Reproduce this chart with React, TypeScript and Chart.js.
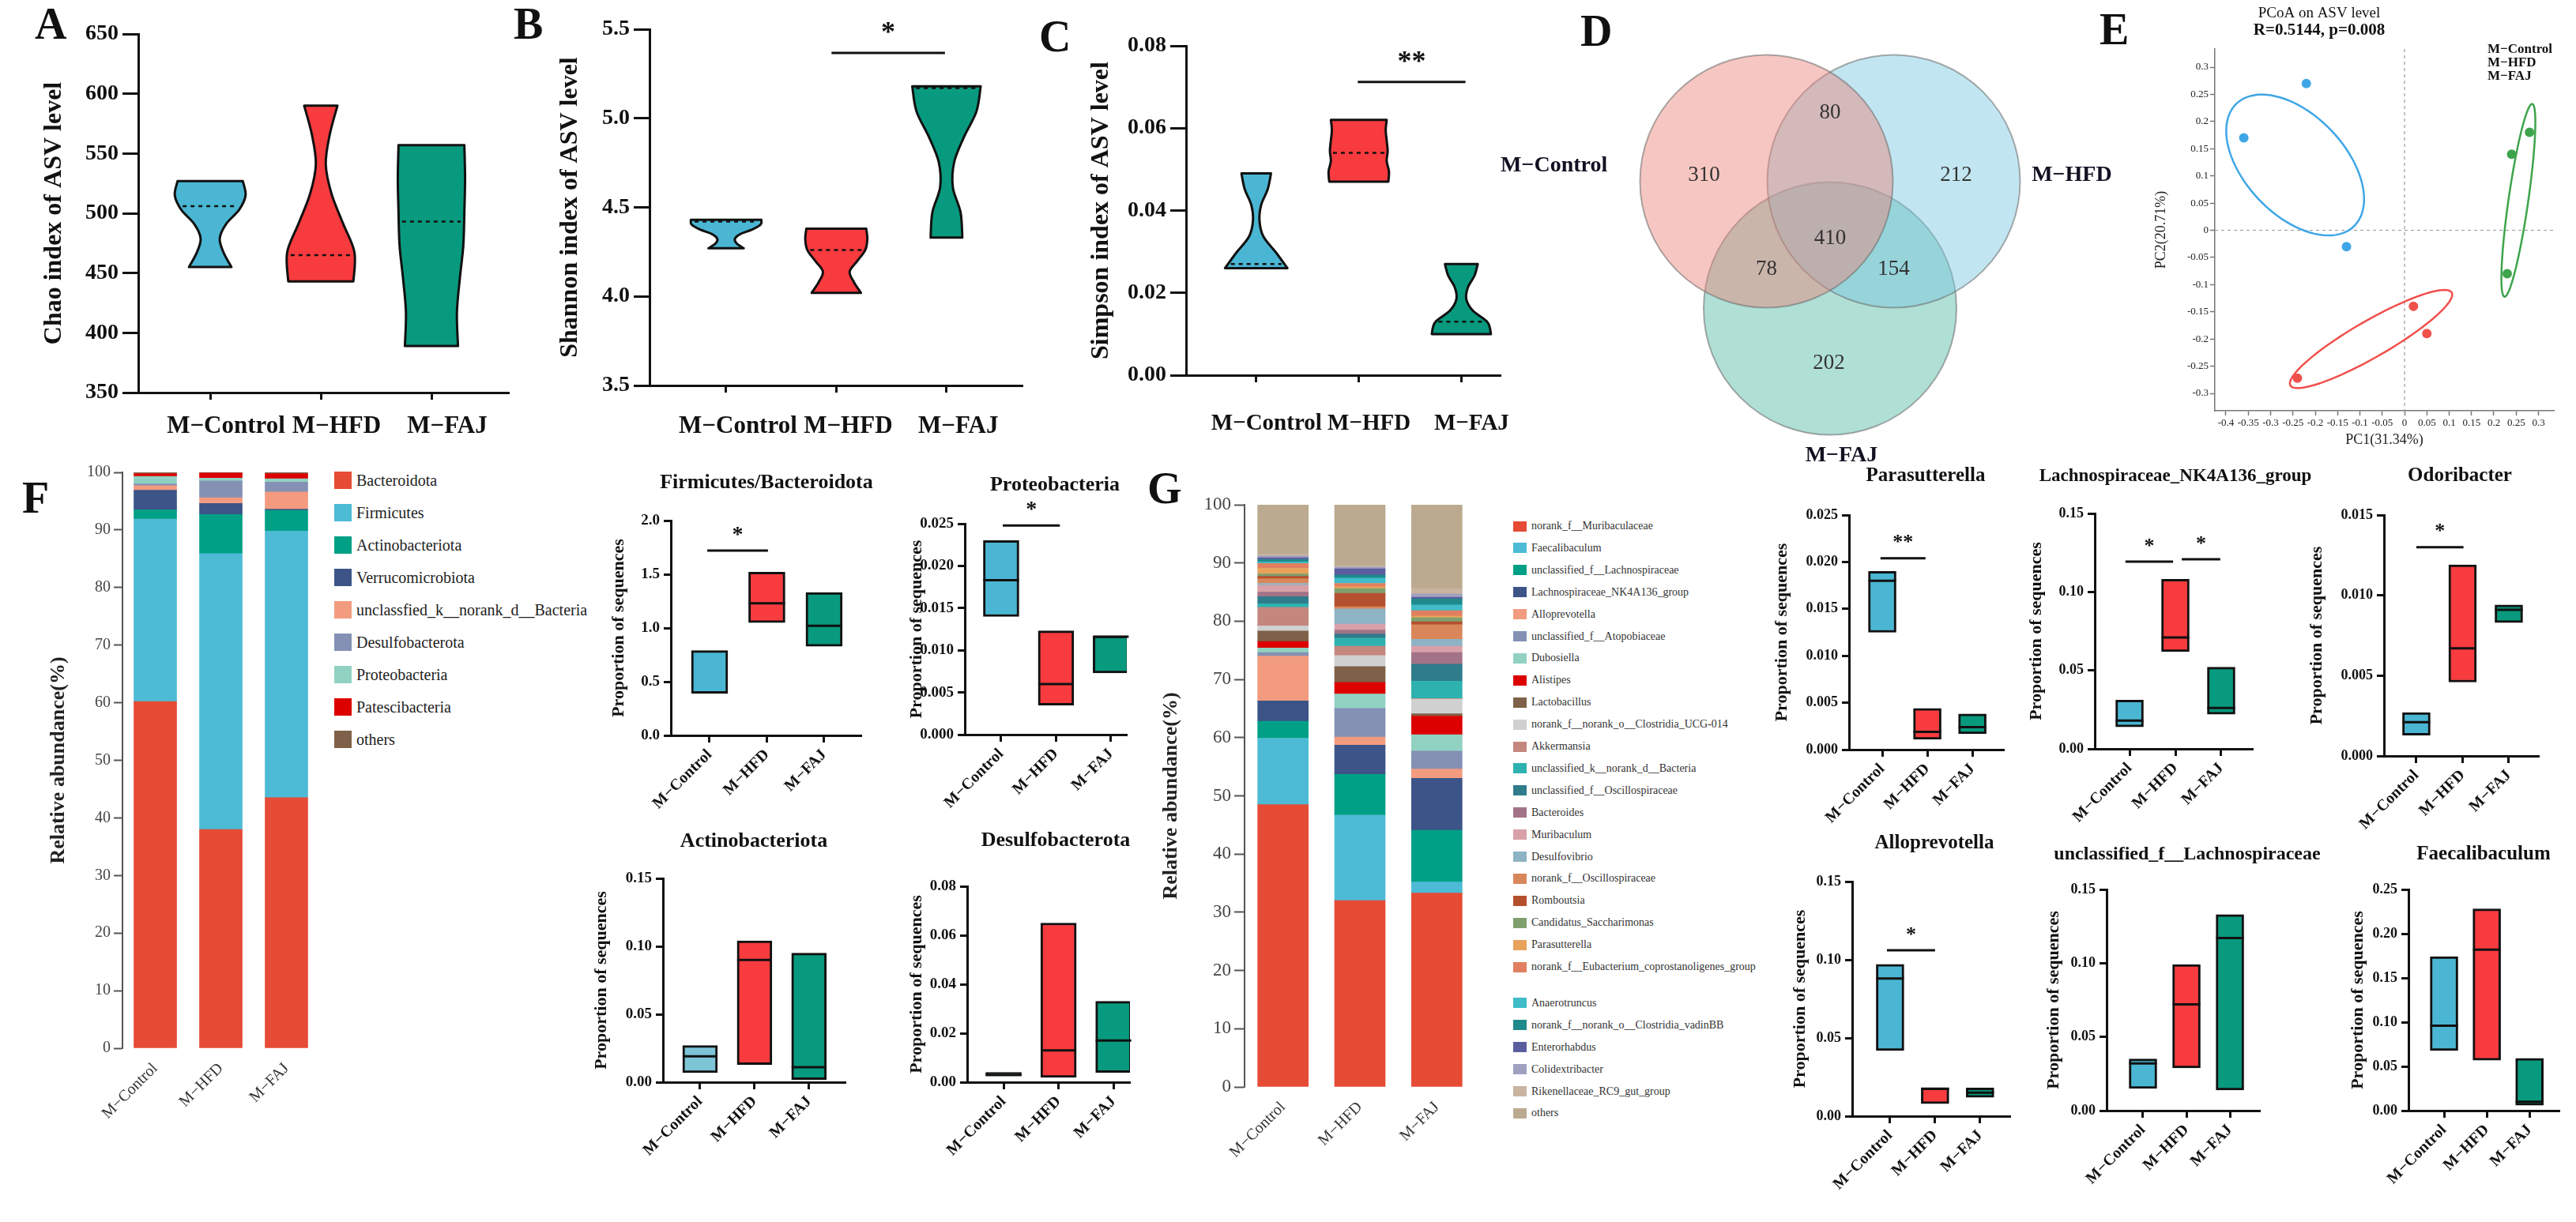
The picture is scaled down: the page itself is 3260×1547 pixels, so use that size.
import React, { useEffect, useRef } from 'react';
import { Chart, registerables } from 'chart.js';

Chart.register(...registerables);

const SERIF = '"Liberation Serif", "Times New Roman", Times, serif';

// ---------------- data ----------------
const groups = ['M−Control', 'M−HFD', 'M−FAJ'];
const groupColors = ['#4AB6D3', '#F83B3F', '#089A7E'];

// A  Chao (violin)
const chaoLow = [455, 443, 389];
const chaoHigh = [527, 590, 557];
const chaoMedian = [506, 465, 493];
const chaoShape = [
  [0.6, 0.38, 0.27, 0.45, 0.82, 1.0, 0.92],
  [0.92, 0.95, 0.62, 0.3, 0.14, 0.25, 0.47],
  [0.75, 0.72, 0.8, 0.9, 0.93, 0.95, 0.93],
];
// B  Shannon (violin)
const shannonLow = [4.27, 4.02, 4.33];
const shannonHigh = [4.43, 4.38, 5.18];
const shannonMedian = [4.42, 4.26, 5.17];
const shannonShape = [
  [0.5, 0.3, 0.25, 0.4, 0.75, 0.98, 1.0],
  [0.7, 0.5, 0.38, 0.6, 0.82, 0.88, 0.85],
  [0.45, 0.4, 0.18, 0.22, 0.5, 0.85, 0.97],
];
// C  Simpson (violin)
const simpsonLow = [0.026, 0.047, 0.01];
const simpsonHigh = [0.049, 0.062, 0.027];
const simpsonMedian = [0.027, 0.054, 0.013];
const simpsonShape = [
  [0.95, 0.6, 0.22, 0.1, 0.15, 0.35, 0.45],
  [0.9, 0.92, 0.85, 0.88, 0.85, 0.82, 0.85],
  [0.9, 0.8, 0.35, 0.15, 0.2, 0.4, 0.5],
];

// D  Venn
const vennSets = ['M−Control', 'M−HFD', 'M−FAJ'];
const vennCounts = [310, 212, 202, 80, 78, 154, 410];

// E  PCoA
const pcoaXTicks = [-0.4, -0.35, -0.3, -0.25, -0.2, -0.15, -0.1, -0.05, 0, 0.05, 0.1, 0.15, 0.2, 0.25, 0.3];
const pcoaYTicks = [-0.3, -0.25, -0.2, -0.15, -0.1, -0.05, 0, 0.05, 0.1, 0.15, 0.2, 0.25, 0.3];
const pcoaControlX = [-0.36, -0.22, -0.13];
const pcoaControlY = [0.17, 0.27, -0.03];
const pcoaHFDX = [0.02, 0.05, -0.24];
const pcoaHFDY = [-0.14, -0.19, -0.272];
const pcoaFAJX = [0.24, 0.28, 0.23];
const pcoaFAJY = [0.14, 0.18, -0.08];
const pcoaColors = ['#3FA6E6', '#F0504C', '#3EA44C'];

// F  phylum composition
const phyla = ['Bacteroidota', 'Firmicutes', 'Actinobacteriota', 'Verrucomicrobiota', 'unclassfied_k__norank_d__Bacteria', 'Desulfobacterota', 'Proteobacteria', 'Patescibacteria', 'others'];
const phylumColors = ['#E64B35', '#4DBBD5', '#00A087', '#3C5488', '#F39B7F', '#8491B4', '#91D1C2', '#DC0000', '#7E6148'];
const pControl = [60.2, 31.7, 1.6, 3.4, 0.8, 0.3, 1.3, 0.5, 0.2];
const pHFD = [38.0, 47.9, 6.8, 1.9, 1.0, 2.9, 0.5, 0.9, 0.1];
const pFAJ = [43.5, 46.3, 3.6, 0.2, 3.0, 1.7, 0.6, 0.9, 0.2];

// F  box plots
const fbLow = [0.39, 1.05, 0.83], fbHigh = [0.79, 1.52, 1.33], fbMed = [0.4, 1.23, 1.02];
const proteoLow = [0.014, 0.0035, 0.0073], proteoHigh = [0.023, 0.0123, 0.0117], proteoMed = [0.0183, 0.006, 0.0116];
const actinoLow = [0.007, 0.013, 0.002], actinoHigh = [0.027, 0.104, 0.095], actinoMed = [0.019, 0.09, 0.011];
const desulfoLow = [0.0025, 0.002, 0.004], desulfoHigh = [0.004, 0.065, 0.033], desulfoMed = [0.003, 0.013, 0.017];

// G  genus composition
const genera = ['norank_f__Muribaculaceae', 'Faecalibaculum', 'unclassified_f__Lachnospiraceae', 'Lachnospiraceae_NK4A136_group', 'Alloprevotella', 'unclassified_f__Atopobiaceae', 'Dubosiella', 'Alistipes', 'Lactobacillus', 'norank_f__norank_o__Clostridia_UCG-014', 'Akkermansia', 'unclassified_k__norank_d__Bacteria', 'unclassified_f__Oscillospiraceae', 'Bacteroides', 'Muribaculum', 'Desulfovibrio', 'norank_f__Oscillospiraceae', 'Romboutsia', 'Candidatus_Saccharimonas', 'Parasutterella', 'norank_f__Eubacterium_coprostanoligenes_group', 'Anaerotruncus', 'norank_f__norank_o__Clostridia_vadinBB60_group', 'Enterorhabdus', 'Colidextribacter', 'Rikenellaceae_RC9_gut_group', 'others'];
const genusLegend = ['norank_f__Muribaculaceae', 'Faecalibaculum', 'unclassified_f__Lachnospiraceae', 'Lachnospiraceae_NK4A136_group', 'Alloprevotella', 'unclassified_f__Atopobiaceae', 'Dubosiella', 'Alistipes', 'Lactobacillus', 'norank_f__norank_o__Clostridia_UCG-014', 'Akkermansia', 'unclassified_k__norank_d__Bacteria', 'unclassified_f__Oscillospiraceae', 'Bacteroides', 'Muribaculum', 'Desulfovibrio', 'norank_f__Oscillospiraceae', 'Romboutsia', 'Candidatus_Saccharimonas', 'Parasutterella', 'norank_f__Eubacterium_coprostanoligenes_group', 'Anaerotruncus', 'norank_f__norank_o__Clostridia_vadinBB', 'Enterorhabdus', 'Colidextribacter', 'Rikenellaceae_RC9_gut_group', 'others'];
const genusColors = ['#E64B35', '#4DBBD5', '#00A087', '#3C5488', '#F39B7F', '#8491B4', '#91D1C2', '#DC0000', '#7E6148', '#D0D0D0', '#C4877E', '#2DB2B0', '#2F7C8C', '#A27387', '#D8A0A8', '#8DB3C4', '#D9875A', '#B5502E', '#7FA06E', '#E8A25C', '#E08060', '#3FBCC8', '#1F8A8A', '#5B5E9E', '#A0A0C0', '#C8B4A0', '#BBAA8F'];
const gControl = [48.5, 11.4, 2.9, 3.5, 7.7, 0.6, 0.8, 1.1, 1.8, 0.9, 3.2, 0.6, 1.2, 0.8, 1.2, 0.3, 0.8, 0.4, 0.4, 1.0, 0.8, 0.3, 0.4, 0.3, 0.3, 0.3, 8.5];
const gHFD = [32.0, 14.7, 7.0, 5.0, 1.4, 4.9, 2.5, 2.0, 2.7, 1.9, 1.6, 1.4, 0.7, 0.7, 1.0, 2.6, 0.4, 2.3, 0.8, 0.3, 0.6, 0.9, 0.5, 1.1, 0.3, 0.3, 10.4];
const gFAJ = [33.3, 1.9, 8.9, 8.9, 1.6, 3.1, 2.8, 3.2, 0.4, 2.5, 0.1, 3.0, 2.9, 2.0, 1.1, 1.2, 2.5, 0.5, 0.7, 0.3, 0.9, 1.0, 1.0, 0.3, 0.6, 0.9, 14.4];

// G  box plots
const paraLow = [0.0125, 0.0011, 0.0017], paraHigh = [0.019, 0.0044, 0.0038], paraMed = [0.018, 0.0019, 0.0024];
const nkLow = [0.014, 0.062, 0.022], nkHigh = [0.031, 0.108, 0.052], nkMed = [0.018, 0.071, 0.026];
const odoLow = [0.0013, 0.0046, 0.0083], odoHigh = [0.0027, 0.0119, 0.0094], odoMed = [0.0021, 0.0067, 0.0091];
const alloLow = [0.042, 0.008, 0.012], alloHigh = [0.097, 0.018, 0.018], alloMed = [0.088, 0.0175, 0.015];
const uLachLow = [0.015, 0.029, 0.014], uLachHigh = [0.035, 0.099, 0.133], uLachMed = [0.032, 0.072, 0.117];
const faecLow = [0.068, 0.057, 0.006], faecHigh = [0.174, 0.228, 0.059], faecMed = [0.096, 0.182, 0.01];

// ---------------- helpers ----------------
type Rect = { left: number; top: number; width: number; height: number };
type Plot = { x0: number; x1: number; y0: number; y1: number };
type Sig = { a: number; b: number; y: number; t: string };

function frame(box: Rect, plot: Plot) {
  return {
    padding: { left: 0, top: plot.y0 - box.top, right: box.left + box.width - plot.x1, bottom: 0 },
    yWidth: plot.x0 - box.left,
    xHeight: box.top + box.height - plot.y1,
  };
}

function smooth(ctx: any, pts: { x: number; y: number }[]) {
  for (let i = 0; i < pts.length - 1; i++) {
    const p0 = pts[i - 1] || pts[i];
    const p1 = pts[i];
    const p2 = pts[i + 1];
    const p3 = pts[i + 2] || pts[i + 1];
    ctx.bezierCurveTo(
      p1.x + (p2.x - p0.x) / 6, p1.y + (p2.y - p0.y) / 6,
      p2.x - (p3.x - p1.x) / 6, p2.y - (p3.y - p1.y) / 6,
      p2.x, p2.y,
    );
  }
}

const fnt = (size: number, bold = true) => ({ family: SERIF, size, weight: bold ? 'bold' : 'normal', lineHeight: 1.2 });

interface GP {
  box: Rect; plot: Plot;
  xMin: number; xMax: number;
  yMin: number; yMax: number; yStep: number; dec: number;
  yTitle: string; yTitleFont: number;
  tickFont: number; labelFont: number; rot: number; labelOffset: number; labelPad: number;
  lineW: number; tickLen: number; xTickLen: number;
  kind: 'violin' | 'box';
  low: number[]; high: number[]; med: number[]; colors: string[];
  shape?: number[][]; half?: number; barPx?: number;
  sig: Sig[]; starFont: number; starGap: number;
  title?: string; titleFont?: number; titleX?: number; titleY?: number;
}

function groupConfig(p: GP) {
  const f = frame(p.box, p.plot);
  const marks = {
    id: 'marks',
    afterDatasetsDraw(chart: any) {
      const ctx = chart.ctx;
      const xs = chart.scales.x;
      const ys = chart.scales.y;
      ctx.save();
      if (p.kind === 'violin' && p.shape) {
        p.low.forEach((lo, i) => {
          const cx = xs.getPixelForValue(i + 1);
          const hw = xs.getPixelForValue(i + 1 + (p.half || 0.3)) - cx;
          const prof = p.shape![i];
          const n = prof.length;
          const R = prof.map((w, k) => ({ x: cx + w * hw, y: ys.getPixelForValue(lo + ((p.high[i] - lo) * k) / (n - 1)) }));
          const L = prof.map((w, k) => ({ x: cx - w * hw, y: R[k].y })).reverse();
          ctx.beginPath();
          ctx.moveTo(L[n - 1].x, L[n - 1].y);
          ctx.lineTo(R[0].x, R[0].y);
          smooth(ctx, R);
          ctx.lineTo(L[0].x, L[0].y);
          smooth(ctx, L);
          ctx.closePath();
          ctx.fillStyle = p.colors[i];
          ctx.fill();
          ctx.lineWidth = p.lineW;
          ctx.lineJoin = 'round';
          ctx.strokeStyle = '#111';
          ctx.stroke();
          const t = ((p.med[i] - lo) / (p.high[i] - lo)) * (n - 1);
          const k0 = Math.max(0, Math.min(n - 2, Math.floor(t)));
          const fr = t - k0;
          const wm = (prof[k0] * (1 - fr) + prof[k0 + 1] * fr) * hw * 0.9;
          const ym = ys.getPixelForValue(p.med[i]);
          ctx.setLineDash([5, 5]);
          ctx.lineWidth = 2.5;
          ctx.beginPath();
          ctx.moveTo(cx - wm, ym);
          ctx.lineTo(cx + wm, ym);
          ctx.stroke();
          ctx.setLineDash([]);
        });
      } else {
        const meta = chart.getDatasetMeta(0);
        meta.data.forEach((el: any, i: number) => {
          const ym = ys.getPixelForValue(p.med[i]);
          ctx.lineWidth = p.lineW;
          ctx.strokeStyle = '#111';
          ctx.beginPath();
          ctx.moveTo(el.x - el.width / 2, ym);
          ctx.lineTo(el.x + el.width / 2, ym);
          ctx.stroke();
        });
      }
      p.sig.forEach((s) => {
        const y = ys.getPixelForValue(s.y);
        const xa = xs.getPixelForValue(s.a);
        const xb = xs.getPixelForValue(s.b);
        ctx.lineWidth = p.lineW;
        ctx.strokeStyle = '#111';
        ctx.beginPath();
        ctx.moveTo(xa, y);
        ctx.lineTo(xb, y);
        ctx.stroke();
        ctx.fillStyle = '#111';
        ctx.font = `bold ${p.starFont}px ${SERIF}`;
        ctx.textAlign = 'center';
        ctx.textBaseline = 'middle';
        ctx.fillText(s.t, (xa + xb) / 2, y - p.starGap);
      });
      if (p.title) {
        ctx.font = `bold ${p.titleFont}px ${SERIF}`;
        ctx.fillStyle = '#111';
        ctx.textAlign = 'center';
        ctx.textBaseline = 'middle';
        ctx.fillText(p.title, (p.titleX || 0) - p.box.left, (p.titleY || 0) - p.box.top);
      }
      ctx.restore();
    },
  };
  return {
    type: 'bar',
    data: {
      datasets: [
        {
          data: p.low.map((lo, i) => ({ x: i + 1, y: [lo, p.high[i]] })),
          backgroundColor: p.kind === 'box' ? p.colors : 'rgba(0,0,0,0)',
          borderColor: p.kind === 'box' ? '#111' : 'rgba(0,0,0,0)',
          borderWidth: p.kind === 'box' ? p.lineW : 0,
          borderSkipped: false,
          barThickness: p.barPx || 10,
        },
      ],
    },
    options: {
      animation: false,
      responsive: false,
      devicePixelRatio: 1,
      layout: { padding: f.padding, autoPadding: false },
      plugins: { legend: { display: false }, tooltip: { enabled: false } },
      scales: {
        x: {
          type: 'linear',
          min: p.xMin,
          max: p.xMax,
          offset: false,
          afterFit: (s: any) => { s.height = f.xHeight; },
          afterBuildTicks: (s: any) => { s.ticks = [1, 2, 3].map((v) => ({ value: v })); },
          grid: { display: true, offset: false, drawOnChartArea: false, drawTicks: true, tickLength: p.xTickLen, tickWidth: p.lineW, tickColor: '#111' },
          border: { display: true, color: '#111', width: p.lineW },
          ticks: {
            autoSkip: false,
            minRotation: p.rot,
            maxRotation: p.rot,
            labelOffset: p.labelOffset,
            padding: p.labelPad,
            font: fnt(p.labelFont),
            color: '#111',
            callback: (v: any) => groups[Math.round(Number(v)) - 1] || '',
          },
        },
        y: {
          type: 'linear',
          min: p.yMin,
          max: p.yMax,
          afterFit: (s: any) => { s.width = f.yWidth; },
          grid: { display: true, drawOnChartArea: false, drawTicks: true, tickLength: p.tickLen, tickWidth: p.lineW, tickColor: '#111' },
          border: { display: true, color: '#111', width: p.lineW },
          ticks: {
            stepSize: p.yStep,
            includeBounds: false,
            maxTicksLimit: 100,
            padding: 5,
            font: fnt(p.tickFont),
            color: '#111',
            callback: (v: any) => Number(v).toFixed(p.dec),
          },
          title: { display: true, text: p.yTitle, font: fnt(p.yTitleFont), color: '#111', padding: 0 },
        },
      },
    },
    plugins: [marks],
  };
}

interface SP {
  box: Rect; plot: Plot; names: string[]; colors: string[]; rows: number[][];
  barPx: number; tickFont: number; labelFont: number; labelPad: number; tickLen: number; titleFont: number;
}

function stackConfig(s: SP) {
  const f = frame(s.box, s.plot);
  return {
    type: 'bar',
    data: {
      labels: groups,
      datasets: s.names.map((n, k) => ({
        label: n,
        data: s.rows.map((r) => r[k]),
        backgroundColor: s.colors[k],
        borderWidth: 0,
        barThickness: s.barPx,
      })),
    },
    options: {
      animation: false,
      responsive: false,
      devicePixelRatio: 1,
      layout: { padding: f.padding, autoPadding: false },
      plugins: { legend: { display: false }, tooltip: { enabled: false } },
      scales: {
        x: {
          stacked: true,
          afterFit: (sc: any) => { sc.height = f.xHeight; },
          grid: { display: false },
          border: { display: false },
          ticks: { autoSkip: false, minRotation: 45, maxRotation: 45, padding: s.labelPad, font: fnt(s.labelFont, false), color: '#333' },
        },
        y: {
          stacked: true,
          min: 0,
          max: 100,
          afterFit: (sc: any) => { sc.width = f.yWidth; },
          grid: { display: true, drawOnChartArea: false, drawTicks: true, tickLength: s.tickLen, tickWidth: 2, tickColor: '#555' },
          border: { display: true, color: '#555', width: 2 },
          ticks: { stepSize: 10, padding: 4, font: fnt(s.tickFont, false), color: '#444' },
          title: { display: true, text: 'Relative abundance(%)', font: fnt(s.titleFont), color: '#222', padding: 0 },
        },
      },
    },
  };
}

function vennConfig(box: Rect) {
  // 1 unit = 161 px, origin at page (2316, 310)
  const unit = 161;
  const ox = 2316;
  const oy = 310;
  const xMin = (box.left - ox) / unit;
  const xMax = (box.left + box.width - ox) / unit;
  const yMax = (oy - box.top) / unit;
  const yMin = (oy - box.top - box.height) / unit;
  const centers = [{ x: -0.5, y: 0.5 }, { x: 0.5, y: 0.5 }, { x: 0, y: -0.5 }];
  const countPos = [{ x: -0.99, y: 0.55 }, { x: 0.99, y: 0.55 }, { x: -0.01, y: -0.93 }, { x: 0, y: 1.04 }, { x: -0.5, y: -0.19 }, { x: 0.5, y: -0.19 }, { x: 0, y: 0.05 }];
  const setPos = [{ x: -2.17, y: 0.62 }, { x: 1.9, y: 0.55 }, { x: 0.09, y: -1.66 }];
  const fills = ['rgba(236,130,120,0.45)', 'rgba(120,200,225,0.45)', 'rgba(80,185,165,0.45)'];
  const labels = {
    id: 'vennLabels',
    afterDatasetsDraw(chart: any) {
      const { ctx } = chart;
      const xs = chart.scales.x;
      const ys = chart.scales.y;
      ctx.save();
      ctx.textAlign = 'center';
      ctx.textBaseline = 'middle';
      ctx.fillStyle = '#333';
      ctx.font = `27px ${SERIF}`;
      vennCounts.forEach((c, i) => ctx.fillText(String(c), xs.getPixelForValue(countPos[i].x), ys.getPixelForValue(countPos[i].y)));
      ctx.fillStyle = '#111122';
      ctx.font = `bold 28px ${SERIF}`;
      vennSets.forEach((s, i) => ctx.fillText(s, xs.getPixelForValue(setPos[i].x), ys.getPixelForValue(setPos[i].y)));
      ctx.restore();
    },
  };
  return {
    type: 'bubble',
    data: {
      datasets: centers.map((c, i) => ({
        label: vennSets[i],
        data: [{ x: c.x, y: c.y, r: 160 }],
        backgroundColor: fills[i],
        borderColor: 'rgba(105,105,105,0.55)',
        borderWidth: 2,
        hoverRadius: 0,
        clip: false,
      })),
    },
    options: {
      animation: false,
      responsive: false,
      devicePixelRatio: 1,
      layout: { padding: 0, autoPadding: false },
      events: [],
      plugins: { legend: { display: false }, tooltip: { enabled: false } },
      scales: {
        x: { type: 'linear', min: xMin, max: xMax, display: false },
        y: { type: 'linear', min: yMin, max: yMax, display: false },
      },
    },
    plugins: [labels],
  };
}

function pcoaConfig(box: Rect, plot: Plot) {
  const f = frame(box, plot);
  const pxX = (3043 - 2817) / 0.4;
  const xMin = -0.4 - (2817 - plot.x0) / pxX;
  const xMax = 0 + (plot.x1 - 3043) / pxX;
  const pxY = (498 - 85) / 0.6;
  const yMax = 0.3 + (85 - plot.y0) / pxY;
  const yMin = -0.3 - (plot.y1 - 498) / pxY;
  const ellipses = [
    { cx: -0.245, cy: 0.12, a: 0.175, b: 0.1, ang: -35 },
    { cx: -0.075, cy: -0.2, a: 0.2, b: 0.035, ang: 25 },
    { cx: 0.255, cy: 0.055, a: 0.18, b: 0.022, ang: 80 },
  ];
  const xsData = [pcoaControlX, pcoaHFDX, pcoaFAJX];
  const ysData = [pcoaControlY, pcoaHFDY, pcoaFAJY];
  const extras = {
    id: 'pcoaExtras',
    beforeDatasetsDraw(chart: any) {
      const { ctx, chartArea: a } = chart;
      const x = chart.scales.x;
      const y = chart.scales.y;
      ctx.save();
      ctx.setLineDash([4, 4]);
      ctx.strokeStyle = '#999';
      ctx.lineWidth = 1.2;
      const x0 = x.getPixelForValue(0);
      const y0 = y.getPixelForValue(0);
      ctx.beginPath();
      ctx.moveTo(x0, a.top);
      ctx.lineTo(x0, a.bottom);
      ctx.moveTo(a.left, y0);
      ctx.lineTo(a.right, y0);
      ctx.stroke();
      ctx.setLineDash([]);
      ellipses.forEach((e, i) => {
        const c = Math.cos((e.ang * Math.PI) / 180);
        const s = Math.sin((e.ang * Math.PI) / 180);
        ctx.beginPath();
        for (let k = 0; k <= 90; k++) {
          const t = (k / 90) * 2 * Math.PI;
          const ux = e.a * Math.cos(t);
          const uy = e.b * Math.sin(t);
          const px = x.getPixelForValue(e.cx + ux * c - uy * s);
          const py = y.getPixelForValue(e.cy + ux * s + uy * c);
          if (k === 0) ctx.moveTo(px, py); else ctx.lineTo(px, py);
        }
        ctx.closePath();
        ctx.strokeStyle = pcoaColors[i];
        ctx.lineWidth = 2.5;
        ctx.stroke();
      });
      ctx.restore();
    },
    afterDraw(chart: any) {
      const { ctx } = chart;
      ctx.save();
      ctx.fillStyle = '#111';
      ctx.textAlign = 'center';
      ctx.textBaseline = 'middle';
      ctx.font = `19px ${SERIF}`;
      ctx.fillText('PCoA on ASV level', 2935 - box.left, 17 - box.top);
      ctx.font = `bold 21px ${SERIF}`;
      ctx.fillText('R=0.5144, p=0.008', 2935 - box.left, 39 - box.top);
      ctx.textAlign = 'left';
      ctx.font = `bold 17px ${SERIF}`;
      groups.forEach((g, i) => ctx.fillText(g, 3148 - box.left, 63 + i * 17 - box.top));
      ctx.restore();
    },
  };
  return {
    type: 'scatter',
    data: {
      datasets: groups.map((g, i) => ({
        label: g,
        data: xsData[i].map((xv, k) => ({ x: xv, y: ysData[i][k] })),
        backgroundColor: pcoaColors[i],
        borderWidth: 0,
        pointRadius: 6,
      })),
    },
    options: {
      animation: false,
      responsive: false,
      devicePixelRatio: 1,
      layout: { padding: f.padding, autoPadding: false },
      plugins: { legend: { display: false }, tooltip: { enabled: false } },
      scales: {
        x: {
          type: 'linear', min: xMin, max: xMax,
          afterFit: (s: any) => { s.height = f.xHeight; },
          afterBuildTicks: (s: any) => { s.ticks = pcoaXTicks.map((v) => ({ value: v })); },
          grid: { display: true, drawOnChartArea: false, drawTicks: true, tickLength: 6, tickWidth: 1.5, tickColor: '#777' },
          border: { display: true, color: '#777', width: 1.5 },
          ticks: { autoSkip: false, maxRotation: 0, minRotation: 0, padding: 2, font: fnt(13, false), color: '#222', callback: (v: any) => String(Number(Number(v).toFixed(2))) },
          title: { display: true, text: 'PC1(31.34%)', font: fnt(18, false), color: '#222', padding: 0 },
        },
        y: {
          type: 'linear', min: yMin, max: yMax,
          afterFit: (s: any) => { s.width = f.yWidth; },
          afterBuildTicks: (s: any) => { s.ticks = pcoaYTicks.map((v) => ({ value: v })); },
          grid: { display: true, drawOnChartArea: false, drawTicks: true, tickLength: 6, tickWidth: 1.5, tickColor: '#777' },
          border: { display: true, color: '#777', width: 1.5 },
          ticks: { autoSkip: false, padding: 2, font: fnt(13, false), color: '#222', callback: (v: any) => String(Number(Number(v).toFixed(2))) },
          title: { display: true, text: 'PC2(20.71%)', font: fnt(18, false), color: '#222', padding: 0 },
        },
      },
    },
    plugins: [extras],
  };
}

// ---------------- panels ----------------
const bigCommon = { tickFont: 28, labelFont: 31, rot: 0, lineW: 3, tickLen: 20, xTickLen: 9, yTitleFont: 32, kind: 'violin' as const, half: 0.32, starFont: 36, starGap: 24, colors: groupColors };
const smallCommon = { tickFont: 19, labelFont: 20, rot: 45, labelOffset: 0, labelPad: 4, lineW: 3, tickLen: 9, xTickLen: 9, yTitleFont: 22, kind: 'box' as const, starFont: 28, starGap: 19, titleFont: 26, colors: groupColors, yMin: 0 };

function buildSpecs() {
  const specs: { box: Rect; config: any }[] = [];
  const addG = (p: GP) => specs.push({ box: p.box, config: groupConfig(p) });
  // A
  addG({ ...bigCommon, box: { left: 50, top: 20, width: 600, height: 550 }, plot: { x0: 175, x1: 644, y0: 43, y1: 497 }, xMin: 0.35, xMax: 3.7, yMin: 350, yMax: 650, yStep: 50, dec: 0, yTitle: 'Chao index of ASV level', labelOffset: 20, labelPad: 15, low: chaoLow, high: chaoHigh, med: chaoMedian, shape: chaoShape, sig: [] });
  // B
  addG({ ...bigCommon, box: { left: 703, top: 15, width: 597, height: 555 }, plot: { x0: 822, x1: 1294, y0: 37, y1: 488 }, xMin: 0.305, xMax: 3.69, yMin: 3.5, yMax: 5.5, yStep: 0.5, dec: 1, yTitle: 'Shannon index of ASV level', labelOffset: 15, labelPad: 24, low: shannonLow, high: shannonHigh, med: shannonMedian, shape: shannonShape, sig: [{ a: 1.957, b: 2.986, y: 5.367, t: '*' }] });
  // C
  addG({ ...bigCommon, labelFont: 29, box: { left: 1375, top: 20, width: 560, height: 550 }, plot: { x0: 1501, x1: 1910, y0: 58, y1: 475 }, xMin: 0.316, xMax: 3.39, yMin: 0, yMax: 0.08, yStep: 0.02, dec: 2, yTitle: 'Simpson index of ASV level', labelOffset: 13, labelPad: 35, low: simpsonLow, high: simpsonHigh, med: simpsonMedian, shape: simpsonShape, sig: [{ a: 1.99, b: 3.04, y: 0.0712, t: '**' }] });
  // D venn
  const vennBox = { left: 1860, top: 50, width: 860, height: 550 };
  specs.push({ box: vennBox, config: vennConfig(vennBox) });
  // E pcoa
  const pBox = { left: 2724, top: 0, width: 526, height: 568 };
  specs.push({ box: pBox, config: pcoaConfig(pBox, { x0: 2803, x1: 3232, y0: 62, y1: 520 }) });
  // F stacked
  const fBox = { left: 59, top: 580, width: 351, height: 860 };
  specs.push({ box: fBox, config: stackConfig({ box: fBox, plot: { x0: 155, x1: 404, y0: 598, y1: 1327 }, names: phyla, colors: phylumColors, rows: [pControl, pHFD, pFAJ], barPx: 54, tickFont: 20, labelFont: 20, labelPad: 6, tickLen: 11, titleFont: 26 }) });
  // F boxes
  addG({ ...smallCommon, box: { left: 770, top: 590, width: 350, height: 460 }, plot: { x0: 849, x1: 1090, y0: 659, y1: 931 }, xMin: 0.324, xMax: 3.65, yMax: 2.0, yStep: 0.5, dec: 1, yTitle: 'Proportion of sequences', barPx: 46, low: fbLow, high: fbHigh, med: fbMed, sig: [{ a: 0.96, b: 2.02, y: 1.72, t: '*' }], title: 'Firmicutes/Bacteroidota', titleX: 970, titleY: 611 });
  addG({ ...smallCommon, box: { left: 1147, top: 570, width: 300, height: 480 }, plot: { x0: 1221, x1: 1426, y0: 663, y1: 930 }, xMin: 0.338, xMax: 3.29, yMax: 0.025, yStep: 0.005, dec: 3, yTitle: 'Proportion of sequences', barPx: 45, low: proteoLow, high: proteoHigh, med: proteoMed, sig: [{ a: 1.03, b: 2.07, y: 0.0248, t: '*' }], title: 'Proteobacteria', titleX: 1335, titleY: 614 });
  addG({ ...smallCommon, box: { left: 748, top: 1040, width: 340, height: 500 }, plot: { x0: 839, x1: 1070, y0: 1112, y1: 1370 }, xMin: 0.319, xMax: 3.67, yMax: 0.15, yStep: 0.05, dec: 2, yTitle: 'Proportion of sequences', barPx: 44, colors: ['#7CC4D6', '#F83B3F', '#089A7E'], low: actinoLow, high: actinoHigh, med: actinoMed, sig: [], title: 'Actinobacteriota', titleX: 954, titleY: 1065 });
  addG({ ...smallCommon, box: { left: 1147, top: 1040, width: 310, height: 500 }, plot: { x0: 1224, x1: 1430, y0: 1122, y1: 1370 }, xMin: 0.338, xMax: 3.3, yMax: 0.08, yStep: 0.02, dec: 2, yTitle: 'Proportion of sequences', barPx: 45, low: desulfoLow, high: desulfoHigh, med: desulfoMed, sig: [], title: 'Desulfobacterota', titleX: 1336, titleY: 1064 });
  // G stacked
  const gBox = { left: 1467, top: 620, width: 406, height: 880 };
  specs.push({ box: gBox, config: stackConfig({ box: gBox, plot: { x0: 1575, x1: 1867, y0: 639, y1: 1376 }, names: genera, colors: genusColors, rows: [gControl, gHFD, gFAJ], barPx: 64, tickFont: 23, labelFont: 20, labelPad: 6, tickLen: 13, titleFont: 26 }) });
  // G boxes
  const rc = { ...smallCommon, tickFont: 18, starFont: 26, barPx: 35, titleFont: 25 };
  addG({ ...rc, box: { left: 2242, top: 580, width: 320, height: 480 }, plot: { x0: 2340, x1: 2536, y0: 652, y1: 949 }, xMin: 0.263, xMax: 3.7, yMax: 0.025, yStep: 0.005, dec: 3, yTitle: 'Proportion of sequences', low: paraLow, high: paraHigh, med: paraMed, sig: [{ a: 0.96, b: 1.96, y: 0.0204, t: '**' }], title: 'Parasutterella', titleX: 2437, titleY: 603 });
  addG({ ...rc, box: { left: 2564, top: 580, width: 400, height: 480 }, plot: { x0: 2651, x1: 2851, y0: 650, y1: 948 }, xMin: 0.241, xMax: 3.69, yMax: 0.15, yStep: 0.05, dec: 2, yTitle: 'Proportion of sequences', titleFont: 23, low: nkLow, high: nkHigh, med: nkMed, sig: [{ a: 0.91, b: 1.95, y: 0.1193, t: '*' }, { a: 2.14, b: 2.98, y: 0.1208, t: '*' }], title: 'Lachnospiraceae_NK4A136_group', titleX: 2753, titleY: 603 });
  addG({ ...rc, box: { left: 2919, top: 580, width: 320, height: 480 }, plot: { x0: 3017, x1: 3213, y0: 652, y1: 957 }, xMin: 0.3, xMax: 3.65, yMax: 0.015, yStep: 0.005, dec: 3, yTitle: 'Proportion of sequences', low: odoLow, high: odoHigh, med: odoMed, sig: [{ a: 1.0, b: 2.02, y: 0.013, t: '*' }], title: 'Odoribacter', titleX: 3113, titleY: 603 });
  addG({ ...rc, box: { left: 2265, top: 1040, width: 300, height: 500 }, plot: { x0: 2344, x1: 2544, y0: 1116, y1: 1413 }, xMin: 0.158, xMax: 3.67, yMax: 0.15, yStep: 0.05, dec: 2, yTitle: 'Proportion of sequences', low: alloLow, high: alloHigh, med: alloMed, sig: [{ a: 0.93, b: 2.0, y: 0.106, t: '*' }], title: 'Alloprevotella', titleX: 2448, titleY: 1068 });
  addG({ ...rc, box: { left: 2586, top: 1040, width: 380, height: 500 }, plot: { x0: 2666, x1: 2860, y0: 1126, y1: 1406 }, xMin: 0.164, xMax: 3.69, yMax: 0.15, yStep: 0.05, dec: 2, yTitle: 'Proportion of sequences', titleFont: 24, low: uLachLow, high: uLachHigh, med: uLachMed, sig: [], title: 'unclassified_f__Lachnospiraceae', titleX: 2768, titleY: 1082 });
  addG({ ...rc, box: { left: 2971, top: 1040, width: 285, height: 500 }, plot: { x0: 3048, x1: 3239, y0: 1126, y1: 1406 }, xMin: 0.167, xMax: 3.7, yMax: 0.25, yStep: 0.05, dec: 2, yTitle: 'Proportion of sequences', low: faecLow, high: faecHigh, med: faecMed, sig: [], title: 'Faecalibaculum', titleX: 3143, titleY: 1082 });
  return specs;
}

const panelLetters = [
  { t: 'A', x: 44, y: 33 },
  { t: 'B', x: 650, y: 33 },
  { t: 'C', x: 1315, y: 49 },
  { t: 'D', x: 2000, y: 42 },
  { t: 'E', x: 2657, y: 40 },
  { t: 'F', x: 28, y: 633 },
  { t: 'G', x: 1452, y: 621 },
];

export default function App() {
  const refs = useRef<(HTMLCanvasElement | null)[]>([]);
  const specs = buildSpecs();
  useEffect(() => {
    document.body.style.margin = '0';
    const built = buildSpecs();
    const charts = built.map((s, i) => new Chart(refs.current[i] as HTMLCanvasElement, s.config));
    return () => charts.forEach((c) => c.destroy());
  }, []);
  const L = 56;
  return (
    <div style={{ position: 'absolute', left: 0, top: 0, width: 3260, height: 1547, background: '#fff', overflow: 'hidden', fontFamily: SERIF }}>
      {specs.map((s, i) => (
        <canvas
          key={i}
          ref={(el) => { refs.current[i] = el; }}
          width={s.box.width}
          height={s.box.height}
          style={{ position: 'absolute', left: s.box.left, top: s.box.top, width: s.box.width, height: s.box.height }}
        />
      ))}
      {panelLetters.map((p) => (
        <div key={p.t} style={{ position: 'absolute', left: p.x, top: p.y - 0.56 * L, fontSize: L, lineHeight: 1, fontWeight: 'bold', color: '#111' }}>{p.t}</div>
      ))}
      {phyla.map((n, k) => (
        <div key={n} style={{ position: 'absolute', left: 423, top: 608 + k * 41 - 11, height: 22, display: 'flex', alignItems: 'center', fontSize: 20, color: '#222', whiteSpace: 'nowrap' }}>
          <span style={{ display: 'inline-block', width: 22, height: 22, background: phylumColors[k], marginRight: 6 }} />
          {n}
        </div>
      ))}
      {genusLegend.map((n, k) => (
        <div key={n} style={{ position: 'absolute', left: 1915, top: 666 + k * 27.9 + (k >= 21 ? 18 : 0) - 8, height: 16, display: 'flex', alignItems: 'center', fontSize: 14, color: '#333', whiteSpace: 'nowrap' }}>
          <span style={{ display: 'inline-block', width: 17, height: 13, background: genusColors[k], marginRight: 6 }} />
          {n}
        </div>
      ))}
    </div>
  );
}
